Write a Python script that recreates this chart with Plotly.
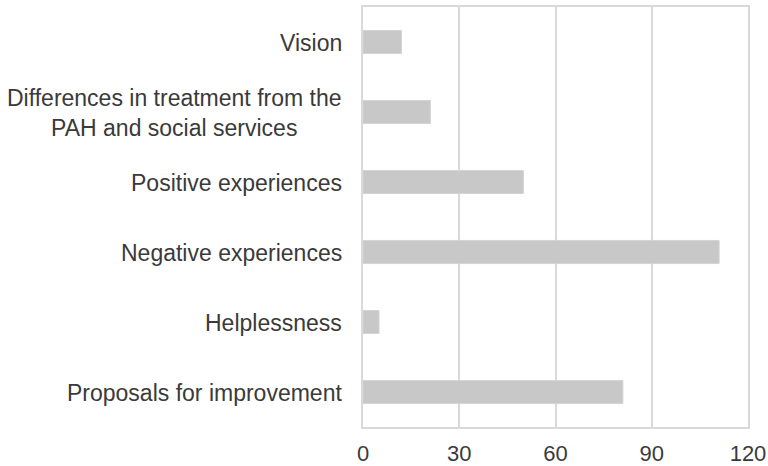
import plotly.graph_objects as go

categories = [
    "Vision",
    "Differences in treatment from the<br>PAH and social services",
    "Positive experiences",
    "Negative experiences",
    "Helplessness",
    "Proposals for improvement",
]
values = [12, 21, 50, 111, 5, 81]
x_ticks = [0, 30, 60, 90, 120]

font_family = "Liberation Sans, Arial, sans-serif"
text_color = "#3a3a3a"
label_size = 23

fig = go.Figure()
fig.add_trace(go.Bar(
    y=categories,
    x=values,
    orientation="h",
    marker=dict(color="#c8c8c8", line=dict(color="#d4d4d4", width=1)),
    hoverinfo="x+y",
))

for cat in categories:
    fig.add_annotation(
        x=0, xref="paper", y=cat, yref="y",
        text=cat, showarrow=False,
        xanchor="right", yanchor="middle", align="center",
        xshift=-19, yshift=-1,
        font=dict(family=font_family, size=label_size, color=text_color),
    )

fig.update_layout(
    width=768, height=466,
    margin=dict(l=363, r=20, t=7, b=39),
    paper_bgcolor="white",
    plot_bgcolor="white",
    bargap=0.67,
    showlegend=False,
    font=dict(family=font_family, size=22, color=text_color),
)
fig.update_xaxes(
    range=[0, 120],
    tickvals=x_ticks,
    automargin=False,
    showgrid=True, gridcolor="#d9d9d9", gridwidth=1.5,
    zeroline=False,
    showline=True, linecolor="#d9d9d9", linewidth=1.5, mirror=True,
    ticks="outside", ticklen=6, tickcolor="rgba(0,0,0,0)",
    tickfont=dict(family=font_family, size=22, color=text_color),
)
fig.update_yaxes(
    autorange="reversed",
    automargin=False,
    showticklabels=False,
    showgrid=False, zeroline=False,
    showline=True, linecolor="#d9d9d9", linewidth=1.5, mirror=True,
)

fig.write_html("out.html")
